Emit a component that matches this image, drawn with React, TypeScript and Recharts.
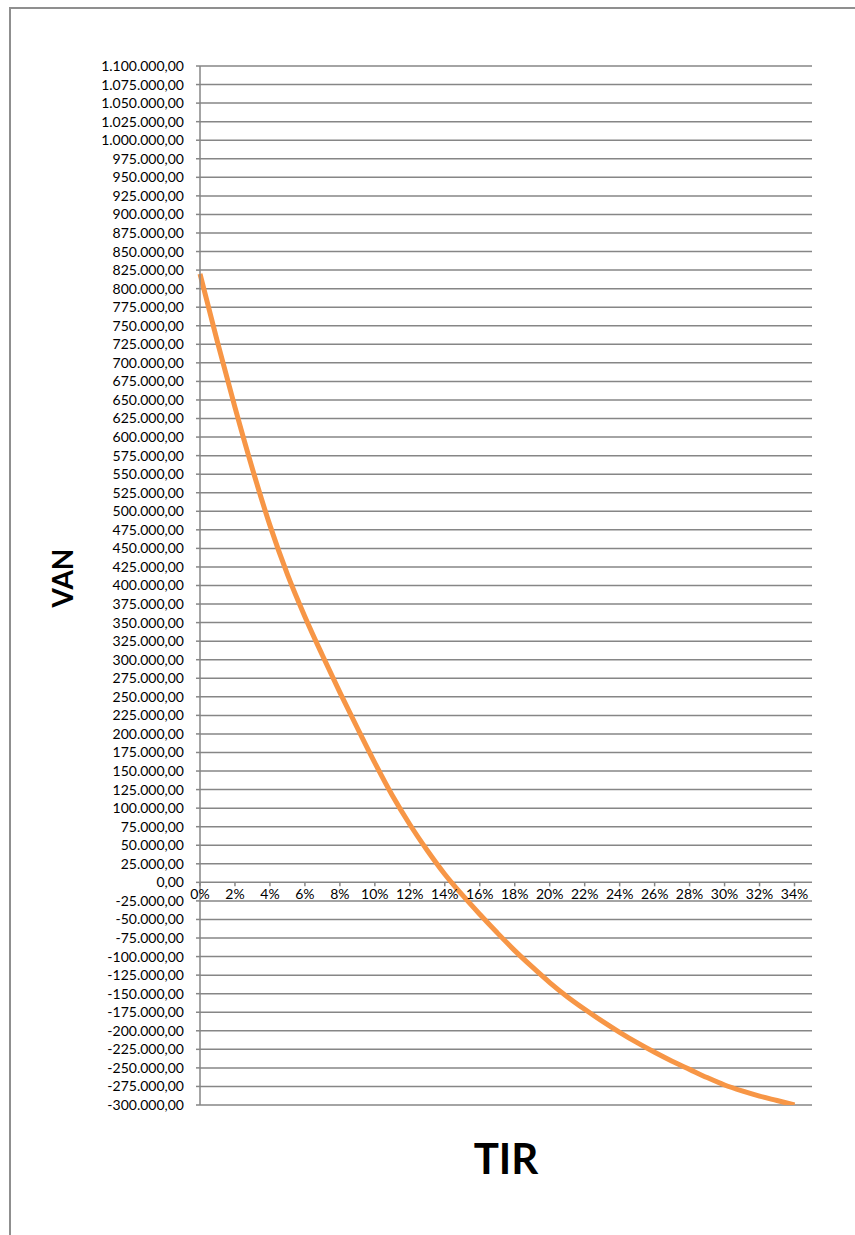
import { LineChart, Line, XAxis, YAxis, CartesianGrid } from 'recharts';

// discount rate in %, one point per 1%
const RATES = [
  0, 1, 2, 3, 4, 5, 6, 7, 8, 9, 10, 11, 12, 13, 14, 15, 16, 17,
  18, 19, 20, 21, 22, 23, 24, 25, 26, 27, 28, 29, 30, 31, 32, 33, 34,
];

// VAN
const VAN_VALUES = [
  820000, 728000, 640000, 557000, 481000, 415000, 358000, 306000, 256000, 208000,
  161000, 117000, 78000, 43000, 11000, -17000, -43000, -68000, -92000, -114000,
  -135000, -154000, -171000, -187000, -202000, -216000, -229000, -241000, -252000, -263000,
  -273000, -281000, -288000, -294000, -300000,
];

const X_TICKS = [0, 2, 4, 6, 8, 10, 12, 14, 16, 18, 20, 22, 24, 26, 28, 30, 32, 34];

const Y_TICKS = [
  -300000, -275000, -250000, -225000, -200000, -175000, -150000, -125000, -100000,
  -75000, -50000, -25000, 0, 25000, 50000, 75000, 100000, 125000, 150000, 175000,
  200000, 225000, 250000, 275000, 300000, 325000, 350000, 375000, 400000, 425000,
  450000, 475000, 500000, 525000, 550000, 575000, 600000, 625000, 650000, 675000,
  700000, 725000, 750000, 775000, 800000, 825000, 850000, 875000, 900000, 925000,
  950000, 975000, 1000000, 1025000, 1050000, 1075000, 1100000,
];

const Y_MIN = -300000;
const Y_MAX = 1100000;

const W = 855;
const H = 1235;
const PLOT_TOP = 66;
const PLOT_BOTTOM = 1105;
const PLOT_LEFT = 200;
const PLOT_RIGHT = 812;
const Y_AXIS_W = 120;
const X_AXIS_H = 30;

// horizontal axis crosses at 0
const ZERO_Y = PLOT_TOP + ((PLOT_BOTTOM - PLOT_TOP) * Y_MAX) / (Y_MAX - Y_MIN);

const FONT = 'Lato, "Open Sans", sans-serif';
const GRID = '#868686';

const chartData = RATES.map((r, i) => ({ rate: r, van: VAN_VALUES[i] }));

const fmtVan = (v: number) => {
  const s = Math.abs(v).toString().replace(/\B(?=(\d{3})+(?!\d))/g, '.');
  return (v < 0 ? '-' : '') + s + ',00';
};

const RateTick = (props: any) => {
  const { x, payload } = props;
  return (
    <g>
      <line x1={x} x2={x} y1={ZERO_Y} y2={ZERO_Y + 4} stroke={GRID} strokeWidth={1.5} />
      <text
        x={x}
        y={ZERO_Y + 17}
        textAnchor="middle"
        fontSize={14}
        fontFamily={FONT}
        fill="#000"
      >
        {`${payload.value}%`}
      </text>
    </g>
  );
};

export default function App() {
  return (
    <div
      style={{
        position: 'absolute',
        left: 0,
        top: 0,
        width: W,
        height: H,
        overflow: 'hidden',
        background: '#fff',
        fontFamily: FONT,
      }}
    >
      {/* chart area frame, runs off the right and bottom edges */}
      <div
        style={{
          position: 'absolute',
          left: 9,
          top: 7,
          width: 900,
          height: 1300,
          border: '2px solid #8f8f8f',
        }}
      />

      <LineChart
        width={W}
        height={H}
        data={chartData}
        style={{ position: 'absolute', left: 0, top: 0 }}
        margin={{
          top: PLOT_TOP,
          right: W - PLOT_RIGHT,
          bottom: H - PLOT_BOTTOM - X_AXIS_H,
          left: PLOT_LEFT - Y_AXIS_W,
        }}
      >
        <CartesianGrid vertical={false} stroke={GRID} strokeWidth={1.5} />
        <XAxis
          dataKey="rate"
          type="number"
          domain={[0, 35]}
          ticks={X_TICKS}
          interval={0}
          height={X_AXIS_H}
          axisLine={false}
          tickLine={false}
          tick={<RateTick />}
        />
        <YAxis
          type="number"
          domain={[Y_MIN, Y_MAX]}
          ticks={Y_TICKS}
          interval={0}
          allowDataOverflow
          width={Y_AXIS_W}
          tickFormatter={fmtVan}
          axisLine={{ stroke: GRID, strokeWidth: 1.5 }}
          tickLine={{ stroke: GRID, strokeWidth: 1.5 }}
          tickSize={4}
          tickMargin={12}
          tick={{ fill: '#000', fontSize: 14, fontFamily: FONT }}
        />
        <Line
          type="monotone"
          dataKey="van"
          stroke="#F79646"
          strokeWidth={5}
          dot={false}
          activeDot={false}
          isAnimationActive={false}
        />
      </LineChart>

      <div
        style={{
          position: 'absolute',
          left: 62,
          top: 578,
          transform: 'translate(-50%, -50%) rotate(-90deg)',
          fontSize: 28,
          fontWeight: 700,
          lineHeight: 1,
          color: '#000',
          whiteSpace: 'nowrap',
        }}
      >
        VAN
      </div>
      <div
        style={{
          position: 'absolute',
          left: 506,
          top: 1158,
          transform: 'translate(-50%, -50%)',
          fontSize: 42,
          fontWeight: 700,
          lineHeight: 1,
          color: '#000',
          whiteSpace: 'nowrap',
        }}
      >
        TIR
      </div>
    </div>
  );
}
